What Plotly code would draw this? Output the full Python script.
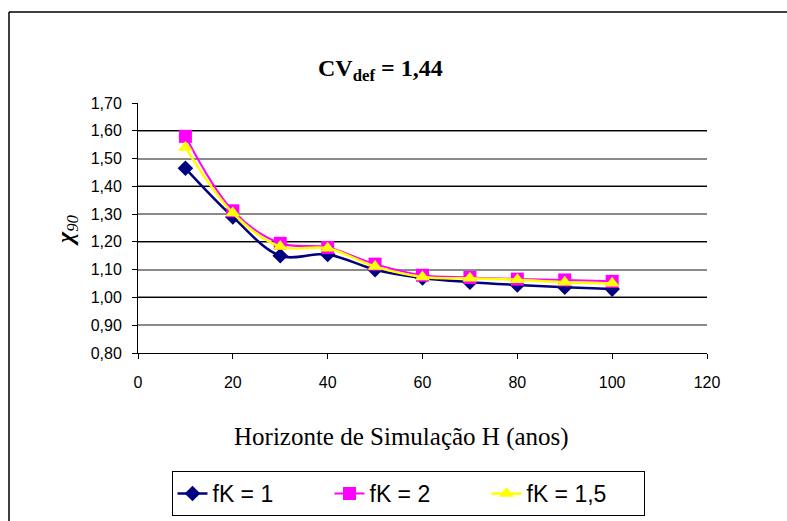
import plotly.graph_objects as go

H = [10, 20, 30, 40, 50, 60, 70, 80, 90, 100]
fk1 = [1.465, 1.29, 1.15, 1.155, 1.10, 1.07, 1.055, 1.045, 1.037, 1.03]
fk2 = [1.58, 1.312, 1.195, 1.18, 1.12, 1.08, 1.072, 1.066, 1.063, 1.058]
fk15 = [1.54, 1.304, 1.183, 1.177, 1.111, 1.074, 1.069, 1.064, 1.055, 1.051]
names = ["fK = 1", "fK = 2", "fK = 1,5"]

W, HH = 787, 521
L, R, T, B = 138, 80, 103, 168
pw, ph = W - L - R, HH - T - B

def px(x):
    return (x - L) / pw

def py(y):
    return (HH - B - y) / ph

fig = go.Figure()
fig.add_trace(go.Scatter(x=H, y=fk1, name=names[0], mode="lines+markers",
                         line=dict(color="#000080", width=2.5, shape="spline", smoothing=1),
                         marker=dict(symbol="diamond", size=12, color="#000080")))
fig.add_trace(go.Scatter(x=H, y=fk2, name=names[1], mode="lines+markers",
                         line=dict(color="#FF00FF", width=2, shape="spline", smoothing=1),
                         marker=dict(symbol="square", size=13, color="#FF00FF")))
fig.add_trace(go.Scatter(x=H, y=fk15, name=names[2], mode="lines+markers",
                         line=dict(color="#FFFF00", width=2.5, shape="spline", smoothing=1),
                         marker=dict(symbol="triangle-up", size=13, color="#FFFF00")))

tickfont = dict(family="Liberation Sans, Arial", size=16, color="black")

fig.update_layout(
    width=W, height=HH,
    margin=dict(l=L, r=R, t=T, b=B, pad=0, autoexpand=False),
    paper_bgcolor="white", plot_bgcolor="white",
    separators=",.",
    showlegend=True,
    legend=dict(orientation="h", x=px(408), xanchor="center", y=py(471), yanchor="top",
                bordercolor="black", borderwidth=1, bgcolor="white",
                font=dict(family="Liberation Sans, Arial", size=23, color="black"),
                entrywidth=112, entrywidthmode="pixels", tracegroupgap=0),
    xaxis=dict(range=[0, 120], dtick=20, tick0=0, showgrid=False, zeroline=False,
               showline=True, linecolor="black", linewidth=1,
               ticks="outside", ticklen=5, tickcolor="black",
               ticklabelstandoff=10, tickfont=tickfont),
    yaxis=dict(range=[0.8, 1.7], dtick=0.1, tick0=0.8, tickformat=".2f",
               showgrid=True, gridcolor="#8a8a8a", gridwidth=2, zeroline=False,
               showline=True, linecolor="black", linewidth=1,
               ticks="outside", ticklen=5, tickcolor="black",
               ticklabelstandoff=7, tickfont=tickfont),
    yaxis2=dict(range=[0.8, 1.7], dtick=0.2, tick0=0.8, overlaying="y", side="left",
                showgrid=True, gridcolor="black", gridwidth=1, zeroline=False,
                showticklabels=False, showline=False, ticks=""),
    annotations=[
        dict(text="<b>CV<sub>def</sub> = 1,44</b>", xref="paper", yref="paper",
             x=px(380), y=py(70), xanchor="center", yanchor="middle", showarrow=False,
             font=dict(family="Liberation Serif, Times New Roman", size=24, color="black")),
        dict(text="Horizonte de Simulação H (anos)", xref="paper", yref="paper",
             x=px(401), y=py(437), xanchor="center", yanchor="middle", showarrow=False,
             font=dict(family="Liberation Serif, Times New Roman", size=25, color="black")),
        dict(text="<b><i>χ</i></b><i><sub>90</sub></i>", xref="paper", yref="paper",
             x=px(67), y=py(230), xanchor="center", yanchor="middle", showarrow=False,
             textangle=-90,
             font=dict(family="Liberation Serif, Times New Roman", size=24, color="black")),
    ],
    shapes=[
        dict(type="line", xref="paper", yref="paper", x0=px(9), x1=px(9), y0=py(12), y1=py(530),
             line=dict(color="black", width=1.5)),
        dict(type="line", xref="paper", yref="paper", x0=px(9), x1=px(800), y0=py(12), y1=py(12),
             line=dict(color="black", width=1.5)),
    ],
)
# invisible trace that activates the secondary (black) grid axis
fig.add_trace(go.Scatter(x=[None], y=[None], yaxis="y2", showlegend=False, hoverinfo="skip"))

fig.write_html("out.html")
